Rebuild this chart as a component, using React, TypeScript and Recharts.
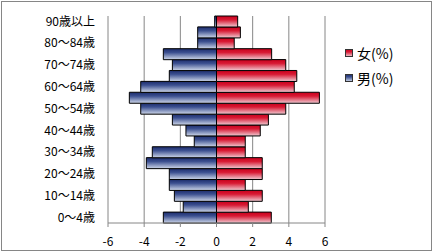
import React from "react";
import { BarChart, Bar, XAxis, YAxis, CartesianGrid, Legend } from "recharts";

// age groups from youngest (bottom) to oldest (top)
const ageGroups = [
  "0～4歳", "5～9歳", "10～14歳", "15～19歳", "20～24歳", "25～29歳", "30～34歳",
  "35～39歳", "40～44歳", "45～49歳", "50～54歳", "55～59歳", "60～64歳", "65～69歳",
  "70～74歳", "75～79歳", "80～84歳", "85～89歳", "90歳以上",
];

// share of population (%), men drawn to the left
const malePct = [
  -2.94, -1.84, -2.33, -2.61, -2.61, -3.88, -3.55, -1.23, -1.69, -2.44,
  -4.19, -4.82, -4.19, -2.61, -2.44, -2.94, -1.04, -1.04, -0.1,
];
const femalePct = [
  3.03, 1.76, 2.53, 1.59, 2.53, 2.53, 1.59, 1.59, 2.42, 2.87,
  3.83, 5.69, 4.3, 4.44, 3.83, 3.05, 0.98, 1.32, 1.17,
];

const xTicks = [-6, -4, -2, 0, 2, 4, 6];

const data = ageGroups.map((age, i) => ({
  age,
  male: malePct[i],
  female: femalePct[i],
}));

const FONT = '"Noto Sans CJK JP", "Noto Sans", sans-serif';

function LegendBox({ payload }: any) {
  return (
    <div style={{ fontFamily: FONT, fontSize: 14, color: "#000" }}>
      {(payload || []).map((p: any) => (
        <div key={p.value} style={{ display: "flex", alignItems: "center", height: 25 }}>
          <svg width={8} height={8} style={{ marginRight: 4 }}>
            <rect x={0.5} y={0.5} width={7} height={7} fill={`url(#${p.payload.id})`} stroke="#333" />
          </svg>
          <span>{p.value}</span>
        </div>
      ))}
    </div>
  );
}

export default function App() {
  return (
    <div style={{ position: "absolute", left: 0, top: 0, width: 433, height: 252, background: "#fff" }}>
      <BarChart
        width={433}
        height={252}
        data={data}
        layout="vertical"
        stackOffset="sign"
        barCategoryGap={0}
        margin={{ top: 16, right: 108, bottom: 0, left: 8 }}
      >
        <defs>
          <linearGradient id="gradFemale" x1="0" y1="0" x2="0" y2="1">
            <stop offset="0%" stopColor="#c8001c" />
            <stop offset="35%" stopColor="#d81a34" />
            <stop offset="100%" stopColor="#f0ccd4" />
          </linearGradient>
          <linearGradient id="gradMale" x1="0" y1="0" x2="0" y2="1">
            <stop offset="0%" stopColor="#1c2c6c" />
            <stop offset="35%" stopColor="#3c5090" />
            <stop offset="100%" stopColor="#cfd8ea" />
          </linearGradient>
        </defs>
        <CartesianGrid horizontal={false} stroke="#868686" />
        <XAxis
          type="number"
          domain={[-6, 6]}
          ticks={xTicks}
          height={29}
          stroke="#868686"
          tickSize={4}
          tickMargin={10}
          tick={{ fill: "#000", fontSize: 12, fontFamily: FONT }}
        />
        <YAxis
          type="category"
          dataKey="age"
          reversed
          interval={1}
          width={100}
          axisLine={false}
          tickLine={false}
          tickMargin={7}
          tick={{ fill: "#000", fontSize: 12, fontFamily: FONT }}
        />
        <Legend
          layout="vertical"
          align="center"
          verticalAlign="middle"
          wrapperStyle={{ left: 345, top: 40 }}
          content={<LegendBox />}
        />
        <Bar dataKey="female" name="女(%)" id="gradFemale" stackId="p" fill="url(#gradFemale)" stroke="#000" strokeWidth={1} isAnimationActive={false} />
        <Bar dataKey="male" name="男(%)" id="gradMale" stackId="p" fill="url(#gradMale)" stroke="#000" strokeWidth={1} isAnimationActive={false} />
      </BarChart>
      <div
        style={{
          position: "absolute",
          left: 1,
          top: 1,
          width: 431,
          height: 250,
          border: "1px solid #868686",
          boxSizing: "border-box",
          pointerEvents: "none",
        }}
      />
    </div>
  );
}
